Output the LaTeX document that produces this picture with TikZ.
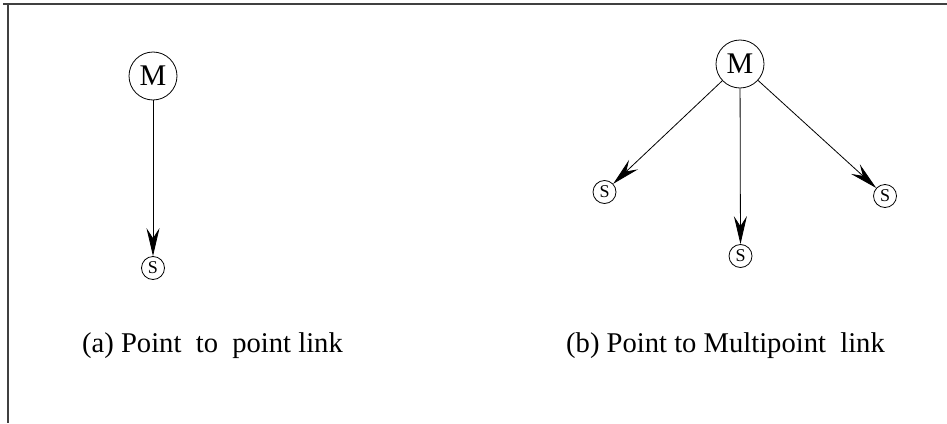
\documentclass[tikz,border=0pt]{standalone}
\usepackage{fontspec}
\setmainfont{Liberation Serif}
\usetikzlibrary{arrows.meta}
\begin{document}
\begin{tikzpicture}[x=1pt,y=-1pt,
  master/.style={circle,draw,line width=0.8pt,inner sep=0pt,minimum size=48pt,
    font=\fontsize{30}{34}\selectfont},
  slave/.style={circle,draw,line width=0.8pt,inner sep=0pt,minimum size=23pt,
    font=\fontsize{18}{20}\selectfont},
  link/.style={line width=0.8pt,-{Stealth[length=28pt,width=13pt,inset=10pt]}},
  caption/.style={anchor=base west,inner sep=0pt,font=\fontsize{28.6}{32}\selectfont},
  frameline/.style={line width=1.3pt,black!75}]
\useasboundingbox (0,0) rectangle (947,423);
% frame
\draw[frameline] (3,4) -- (947,4);
\draw[frameline] (8,4) -- (8,423);
% (a) point to point
\node[master] (ma) at (153,76) {M};
\node[slave] (sa) at (153,268) {S};
\draw[link] (ma) -- (sa);
\node[caption] (capa) at (82,352) {(a) Point\ \ to\ \ point link};
% (b) point to multipoint
\node[master] (mb) at (740,64) {M};
\node[slave] (sb1) at (604.5,192) {S};
\node[slave] (sb2) at (740.5,256) {S};
\node[slave] (sb3) at (885,196) {S};
\draw[link] (mb) -- (sb1);
\draw[link] (mb) -- (sb2);
\draw[link] (mb) -- (sb3);
\node[caption] (capb) at (566,352) {(b) Point to Multipoint\ \ link};
\end{tikzpicture}
\end{document}
